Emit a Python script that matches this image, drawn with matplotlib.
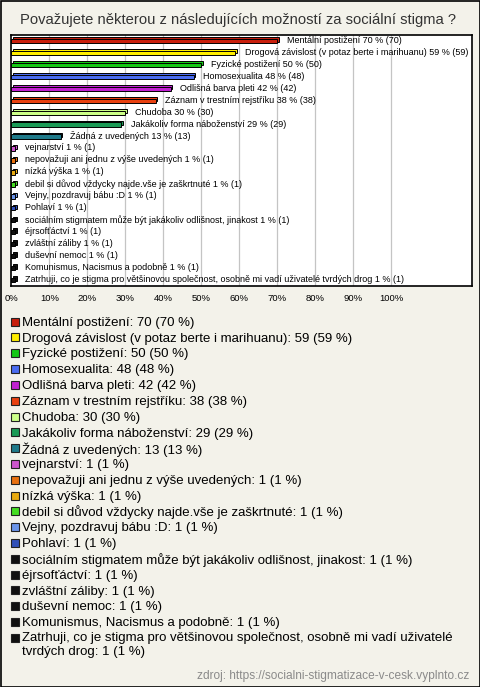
import matplotlib.pyplot as plt
from matplotlib.patches import Rectangle

plt.rcParams['font.family'] = ['Liberation Sans', 'DejaVu Sans']

title = "Považujete některou z následujících možností za sociální stigma ?"
labels = [
    "Mentální postižení",
    "Drogová závislost (v potaz berte i marihuanu)",
    "Fyzické postižení",
    "Homosexualita",
    "Odlišná barva pleti",
    "Záznam v trestním rejstříku",
    "Chudoba",
    "Jakákoliv forma náboženství",
    "Žádná z uvedených",
    "vejnarství",
    "nepovažuji ani jednu z výše uvedených",
    "nízká výška",
    "debil si důvod vždycky najde.vše je zaškrtnuté",
    "Vejny, pozdravuj bábu :D",
    "Pohlaví",
    "sociálním stigmatem může být jakákoliv odlišnost, jinakost",
    "éjrsofťáctví",
    "zvláštní záliby",
    "duševní nemoc",
    "Komunismus, Nacismus a podobně",
    "Zatrhuji, co je stigma pro většinovou společnost, osobně mi vadí uživatelé tvrdých drog",
]
counts = [70, 59, 50, 48, 42, 38, 30, 29, 13, 1, 1, 1, 1, 1, 1, 1, 1, 1, 1, 1, 1]
percents = [70, 59, 50, 48, 42, 38, 30, 29, 13, 1, 1, 1, 1, 1, 1, 1, 1, 1, 1, 1, 1]
colors = [
    "#c81e0c", "#ffee00", "#14c814", "#4a6cf0", "#c020d0", "#e84010",
    "#ccff88", "#1a9a55", "#1f7a8a", "#cc55cc", "#e87010", "#e8aa10",
    "#44dd22", "#6a94e8", "#3050b8", "#111111", "#111111", "#111111",
    "#111111", "#111111", "#111111",
]
xticks = [0, 10, 20, 30, 40, 50, 60, 70, 80, 90, 100]
source = "zdroj: https://socialni-stigmatizace-v-cesk.vyplnto.cz"

W, H = 480, 687
fig = plt.figure(figsize=(W / 100, H / 100), dpi=100)
fig.patch.set_facecolor("#f3f2ea")
fig.patches.append(Rectangle((0.5 / W, 0.5 / H), 1 - 1 / W, 1 - 1 / H,
                             transform=fig.transFigure, fill=False,
                             edgecolor="black", lw=1.2))

fig.text(20 / W, 1 - 20 / H, title, fontsize=10.6, color="#333333",
         ha="left", va="center")

px = 3.8  # pixels per percent
ax = fig.add_axes([11.3 / W, 1 - 286 / H, (472 - 11.3) / W, 251 / H])
ax.set_facecolor("white")
ax.set_xlim(0, (472 - 11.3) / px)
ax.set_ylim(len(labels) - 0.5, -0.5)

for x in xticks[1:]:
    ax.axvline(x, color="#c4c4c4", lw=0.9, zorder=0)

ys = list(range(len(labels)))
dx = 1.6 / px
dy = 1.6 / 12
h = 0.36
for i, (v, c) in enumerate(zip(percents, colors)):
    ax.barh(ys[i] - dy, v, left=dx, height=h, color=c, edgecolor="black",
            lw=0.7, zorder=2)
    ax.barh(ys[i], v, height=h, color=c, edgecolor="black", lw=0.7, zorder=3)
    ax.text(v + 9.5 / px, ys[i] - 0.05, f"{labels[i]} {v} % ({counts[i]})",
            fontsize=6.5, va="center", ha="left", zorder=4, clip_on=False)

ax.set_xticks(xticks)
ax.set_xticklabels([f"{x}%" for x in xticks], fontsize=6.8)
ax.tick_params(axis="x", length=0, pad=6)
ax.set_yticks([])
for s in ax.spines.values():
    s.set_color("black")
    s.set_linewidth(1.2)

# legend
y0 = 321.7
step = 15.8
for i, (lab, c) in enumerate(zip(labels, colors)):
    y = y0 + i * step
    fig.patches.append(Rectangle((10.5 / W, 1 - (y + 4) / H), 8 / W, 8 / H,
                                 transform=fig.transFigure, facecolor=c,
                                 edgecolor="#222222", lw=0.8))
    txt = f"{lab}: {counts[i]} ({percents[i]} %)"
    if len(txt) > 80:
        txt = txt.replace("uživatelé ", "uživatelé\n")
        fig.text(21.5 / W, 1 - (y - 5.5) / H, txt, fontsize=9.5, ha="left",
                 va="top", linespacing=1.2)
    else:
        fig.text(21.5 / W, 1 - (y + 1.2) / H, txt, fontsize=9.5, ha="left",
                 va="center")

fig.text(469 / W, 1 - 676 / H, source, fontsize=8.6, color="#8a8a8a",
         ha="right", va="center")

fig.savefig("out.png", dpi=100, facecolor=fig.get_facecolor())
